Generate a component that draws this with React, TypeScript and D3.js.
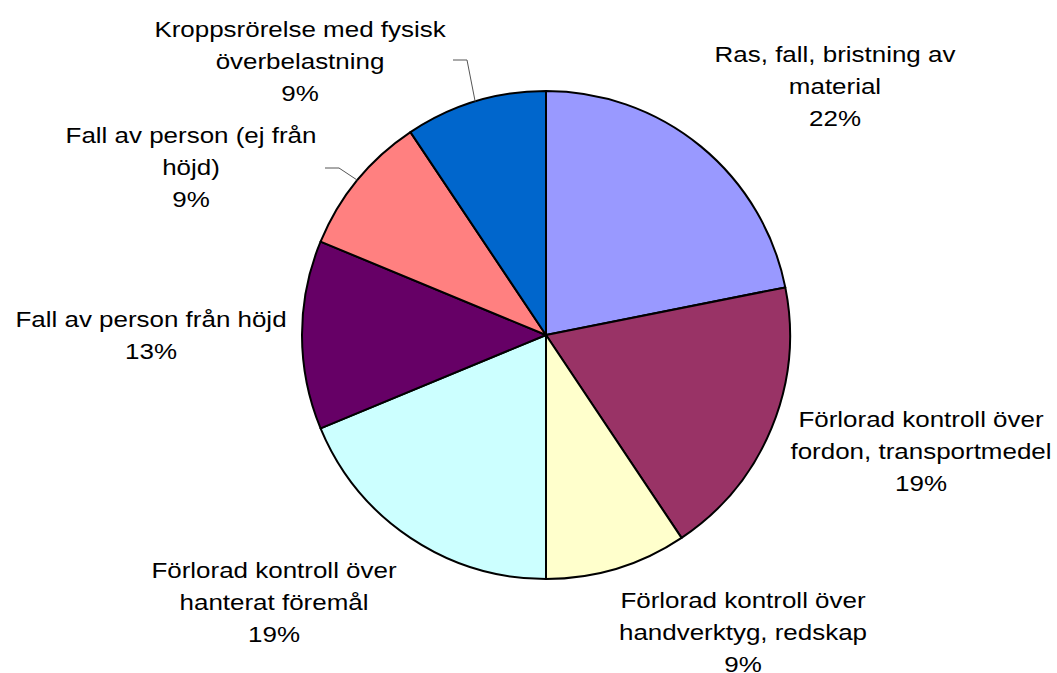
import React from "react";
import * as d3 from "d3";

const categories = [
  "Ras, fall, bristning av material",
  "Förlorad kontroll över fordon, transportmedel",
  "Förlorad kontroll över handverktyg, redskap",
  "Förlorad kontroll över hanterat föremål",
  "Fall av person från höjd",
  "Fall av person (ej från höjd)",
  "Kroppsrörelse med fysisk överbelastning",
];
const values = [7, 6, 3, 6, 4, 3, 3];
const colors = ["#9999FF", "#993366", "#FFFFCC", "#CCFFFF", "#660066", "#FF8080", "#0066CC"];
const labelLines = [
  ["Ras, fall, bristning av", "material"],
  ["Förlorad kontroll över", "fordon, transportmedel"],
  ["Förlorad kontroll över", "handverktyg, redskap"],
  ["Förlorad kontroll över", "hanterat föremål"],
  ["Fall av person från höjd"],
  ["Fall av person (ej från", "höjd)"],
  ["Kroppsrörelse med fysisk", "överbelastning"],
];

// layout: label anchor (center x, first baseline y)
const labelPos: [number, number][] = [
  [835, 62],
  [921, 427],
  [743, 608],
  [274, 578],
  [151, 327],
  [191, 143],
  [300, 37],
];
// leader lines for the small slices: [label end x, y, elbow x]
const leaders: Record<number, [number, number, number]> = {
  5: [325, 168, 339],
  6: [453, 60, 467],
};

const W = 1057;
const H = 673;
const cx = 546;
const cy = 335;
const R = 244;
const LH = 32;
const FS = 22;
const SX = 1.18;

export default function App() {
  const total = d3.sum(values);
  const pie = d3.pie<number>().sort(null).value((d) => d)(values);
  const arc = d3.arc<d3.PieArcDatum<number>>().innerRadius(0).outerRadius(R);
  const fmt = (v: number) => `${Math.round((v / total) * 100)}%`;

  return (
    <svg
      width={W}
      height={H}
      style={{ position: "absolute", left: 0, top: 0, background: "#fff" }}
      fontFamily="'Liberation Sans', Arial, sans-serif"
    >
      <g transform={`translate(${cx},${cy})`}>
        {pie.map((p, i) => (
          <path key={i} d={arc(p) || ""} fill={colors[i]} stroke="#000" strokeWidth={2} strokeLinejoin="round" />
        ))}
      </g>
      {Object.entries(leaders).map(([k, l]) => {
        const i = +k;
        const p = pie[i];
        const a = (p.startAngle + p.endAngle) / 2;
        const ex = cx + Math.sin(a) * R;
        const ey = cy - Math.cos(a) * R;
        return (
          <polyline
            key={k}
            points={`${l[0]},${l[1]} ${l[2]},${l[1]} ${ex},${ey}`}
            fill="none"
            stroke="#555"
            strokeWidth={1}
          />
        );
      })}
      {categories.map((c, i) => {
        const lines = [...labelLines[i], fmt(values[i])];
        const [x, y] = labelPos[i];
        return (
          <text
            key={c}
            transform={`translate(${x},${y}) scale(${SX},1)`}
            textAnchor="middle"
            fontSize={FS}
            fill="#000"
          >
            {lines.map((t, j) => (
              <tspan key={j} x={0} y={j * LH}>
                {t}
              </tspan>
            ))}
          </text>
        );
      })}
    </svg>
  );
}
